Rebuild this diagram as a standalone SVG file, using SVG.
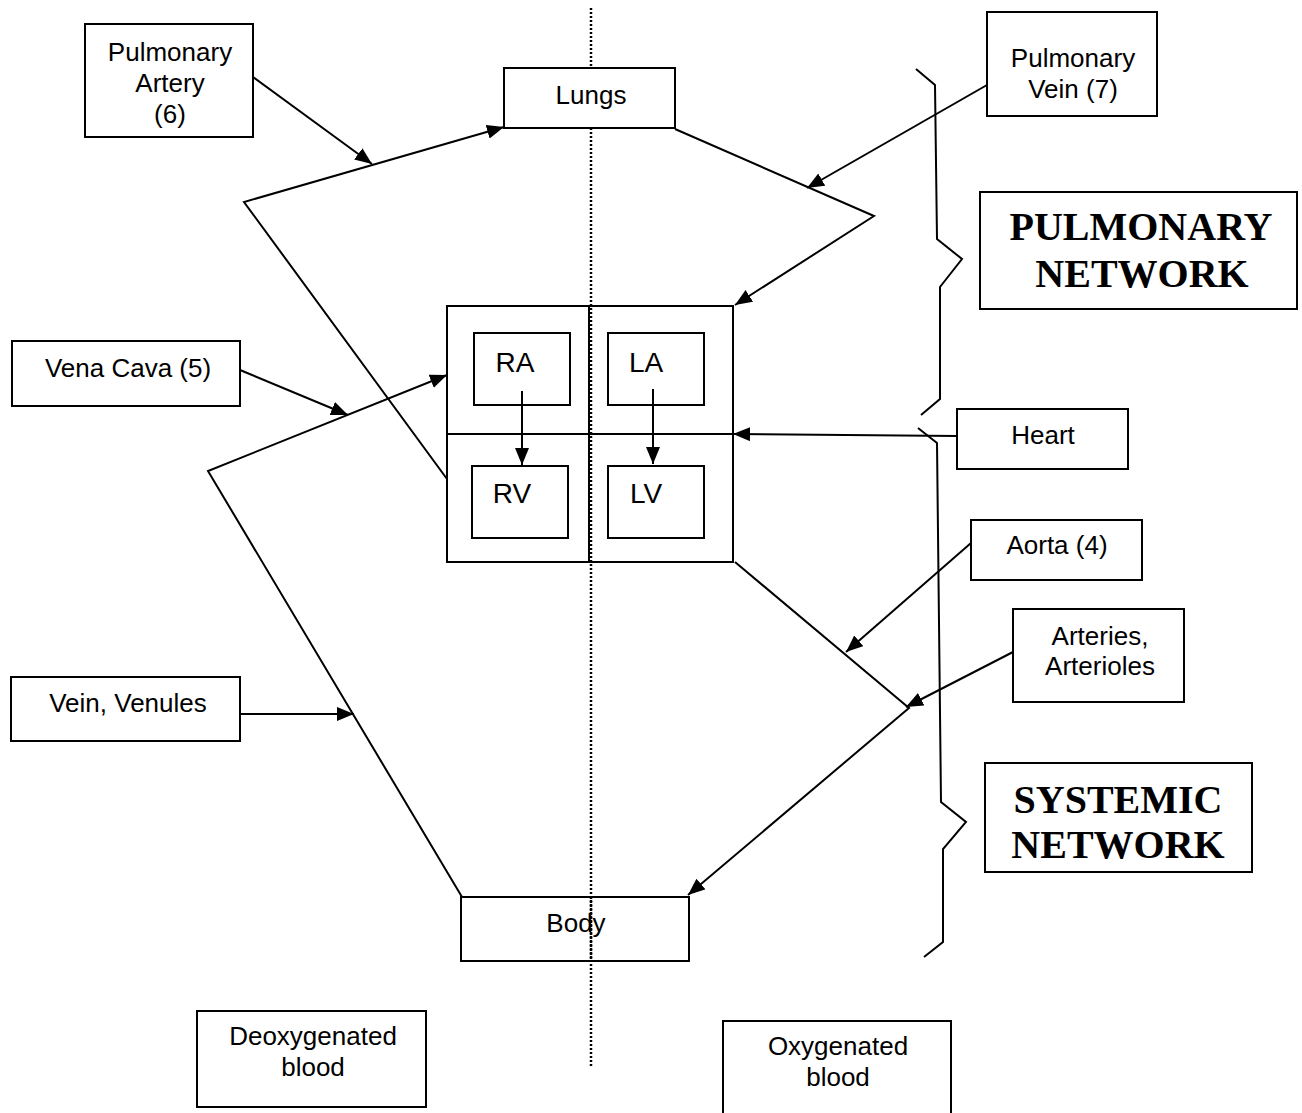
<svg xmlns="http://www.w3.org/2000/svg" width="1302" height="1113" viewBox="0 0 1302 1113">
<style>
.box{fill:#fff;stroke:#000;stroke-width:2}
.nofill{fill:none;stroke:#000;stroke-width:2}
.ln{fill:none;stroke:#000;stroke-width:2}
.t{font-family:"Liberation Sans",Arial,sans-serif;font-size:26px;fill:#000;text-anchor:middle}
.tc{font-family:"Liberation Sans",Arial,sans-serif;font-size:28px;fill:#000;text-anchor:middle}
.tb{font-family:"Liberation Serif","Times New Roman",serif;font-size:40px;font-weight:bold;fill:#000;text-anchor:middle}
</style>
<defs>
<marker id="ah" markerUnits="userSpaceOnUse" markerWidth="20" markerHeight="16" refX="17" refY="7" orient="auto">
<path d="M0,0 L17,7 L0,14 z" fill="#000"/>
</marker>
</defs>
<rect width="1302" height="1113" fill="#fff"/>
<g id="divider">
<line x1="591" y1="8" x2="591" y2="1067" stroke="#000" stroke-width="2.5" stroke-dasharray="2 2"/>
</g>
<g id="lungs">
<rect class="box" x="504" y="68" width="171" height="60"/>
<text class="t" x="591" y="104">Lungs</text>
</g>
<g id="heart">
<rect class="nofill" x="447" y="306" width="286" height="256"/>
<line class="ln" x1="447" y1="434" x2="733" y2="434"/>
<line class="ln" x1="589" y1="306" x2="589" y2="562"/>
</g>
<g id="ra"><rect class="box" x="474" y="333" width="96" height="72"/><text class="tc" x="515" y="372">RA</text></g>
<g id="la"><rect class="box" x="608" y="333" width="96" height="72"/><text class="tc" x="646" y="372">LA</text></g>
<g id="rv"><rect class="box" x="472" y="466" width="96" height="72"/><text class="tc" x="512" y="503">RV</text></g>
<g id="lv"><rect class="box" x="608" y="466" width="96" height="72"/><text class="tc" x="646" y="503">LV</text></g>
<g id="body">
<rect class="nofill" x="461" y="897" width="228" height="64"/>
<text class="t" x="576" y="932">Body</text>
</g>
<line x1="591" y1="897" x2="591" y2="961" stroke="#000" stroke-width="2.5" stroke-dasharray="2 2"/>
<g id="pulmonary-artery">
<rect class="box" x="85" y="24" width="168" height="113"/>
<text class="t" x="170" y="61">Pulmonary</text>
<text class="t" x="170" y="92">Artery</text>
<text class="t" x="170" y="123">(6)</text>
</g>
<g id="pulmonary-vein">
<rect class="box" x="987" y="12" width="170" height="104"/>
<text class="t" x="1073" y="67">Pulmonary</text>
<text class="t" x="1073" y="98">Vein (7)</text>
</g>
<g id="pulmonary-network">
<rect class="box" x="980" y="192" width="317" height="117"/>
<text class="tb" x="1141" y="240">PULMONARY</text>
<text class="tb" x="1142" y="287">NETWORK</text>
</g>
<g id="vena-cava">
<rect class="box" x="12" y="341" width="228" height="65"/>
<text class="t" x="128" y="377">Vena Cava (5)</text>
</g>
<g id="heart-label">
<rect class="box" x="957" y="409" width="171" height="60"/>
<text class="t" x="1043" y="444">Heart</text>
</g>
<g id="aorta">
<rect class="box" x="971" y="520" width="171" height="60"/>
<text class="t" x="1057" y="554">Aorta (4)</text>
</g>
<g id="arteries">
<rect class="box" x="1013" y="609" width="171" height="93"/>
<text class="t" x="1100" y="645">Arteries,</text>
<text class="t" x="1100" y="675">Arterioles</text>
</g>
<g id="vein-venules">
<rect class="box" x="11" y="677" width="229" height="64"/>
<text class="t" x="128" y="712">Vein, Venules</text>
</g>
<g id="systemic-network">
<rect class="box" x="985" y="763" width="267" height="109"/>
<text class="tb" x="1118" y="813">SYSTEMIC</text>
<text class="tb" x="1118" y="858">NETWORK</text>
</g>
<g id="deoxygenated">
<rect class="box" x="197" y="1011" width="229" height="96"/>
<text class="t" x="313" y="1045">Deoxygenated</text>
<text class="t" x="313" y="1076">blood</text>
</g>
<g id="oxygenated">
<rect class="box" x="723" y="1021" width="228" height="100"/>
<text class="t" x="838" y="1055">Oxygenated</text>
<text class="t" x="838" y="1086">blood</text>
</g>
<g id="connectors">
<polyline class="ln" points="447,479 244,202 504,127" marker-end="url(#ah)"/>
<line class="ln" x1="253" y1="77" x2="372" y2="164" marker-end="url(#ah)"/>
<polyline class="ln" points="675,129 874,216 735,305" marker-end="url(#ah)"/>
<line class="ln" x1="987" y1="85" x2="807" y2="188" marker-end="url(#ah)"/>
<polyline class="ln" points="462,897 208,471 447,375" marker-end="url(#ah)"/>
<line class="ln" x1="240" y1="370" x2="348" y2="415" marker-end="url(#ah)"/>
<line class="ln" x1="240" y1="714" x2="354" y2="714" marker-end="url(#ah)"/>
<line class="ln" x1="957" y1="436" x2="733" y2="434" marker-end="url(#ah)"/>
<polyline class="ln" points="735,562 909,708 688,895" marker-end="url(#ah)"/>
<line class="ln" x1="971" y1="543" x2="846" y2="652" marker-end="url(#ah)"/>
<line class="ln" x1="1013" y1="652" x2="906" y2="707" marker-end="url(#ah)"/>
<line class="ln" x1="522" y1="391" x2="522" y2="465" marker-end="url(#ah)"/>
<line class="ln" x1="653" y1="389" x2="653" y2="464" marker-end="url(#ah)"/>
</g>
<g id="braces">
<polyline class="ln" points="916,69 935,85 937,239 962,259 940,287 940,399 921,415"/>
<polyline class="ln" points="918,428 937,443 941,802 966,822 943,849 943,942 924,957"/>
</g>
</svg>
